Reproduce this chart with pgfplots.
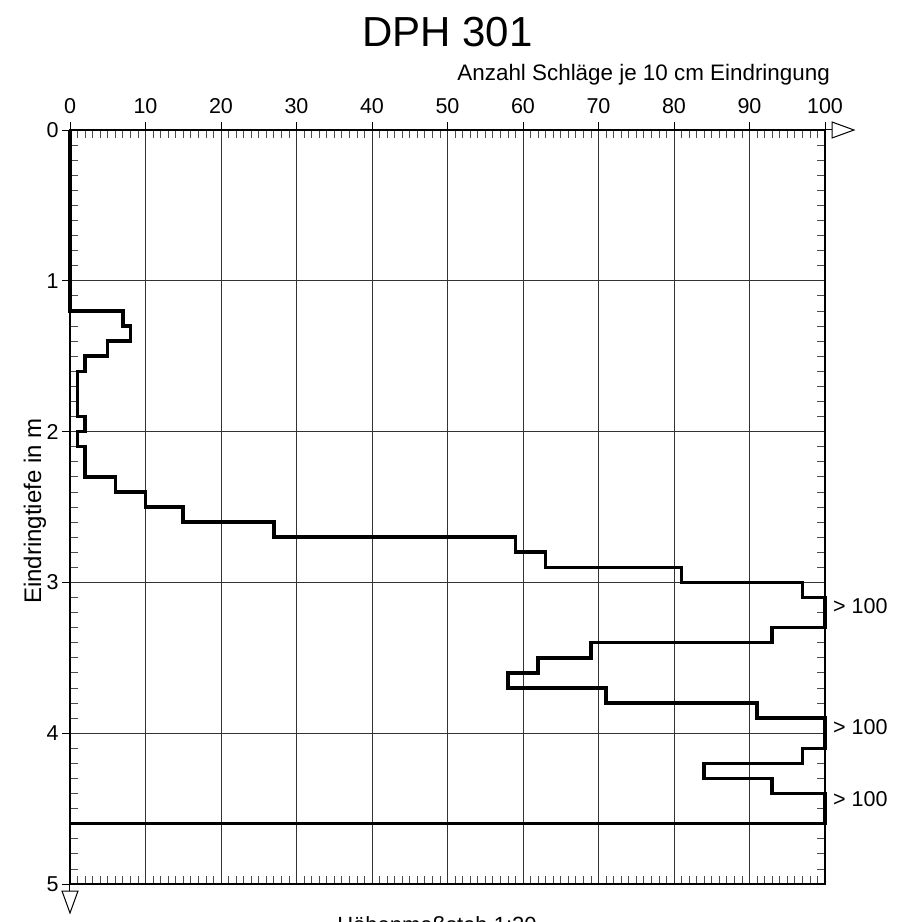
\documentclass[border=0pt]{standalone}
\usepackage{pgfplots}
\pgfplotsset{compat=1.18}
\usepackage{fontspec}
\setmainfont{Liberation Sans}

% blows per 10 cm, drawn as steps: (blows, depth)
\pgfplotstableread{
n d
0 0
0 1.2
7 1.2
7 1.3
8 1.3
8 1.4
5 1.4
5 1.5
2 1.5
2 1.6
1 1.6
1 1.9
2 1.9
2 2.0
1 2.0
1 2.1
2 2.1
2 2.3
6 2.3
6 2.4
10 2.4
10 2.5
15 2.5
15 2.6
27 2.6
27 2.7
59 2.7
59 2.8
63 2.8
63 2.9
81 2.9
81 3.0
97 3.0
97 3.1
100 3.1
100 3.3
93 3.3
93 3.4
69 3.4
69 3.5
62 3.5
62 3.6
58 3.6
58 3.7
71 3.7
71 3.8
91 3.8
91 3.9
100 3.9
100 4.1
97 4.1
97 4.2
84 4.2
84 4.3
93 4.3
93 4.4
100 4.4
100 4.6
0 4.6
}\sondierung

\begin{document}
\begin{tikzpicture}
\pgfplotsset{every axis/.append style={
    scale only axis, width=755pt, height=754pt,
    xmin=0, xmax=100, ymin=0, ymax=5, y dir=reverse,
    xtick={0,10,...,100}, ytick={0,1,2,3,4,5},
}}
% minor ticks, inward on all four sides
\begin{axis}[
    at={(0,0)}, anchor=south west,
    tick align=inside, major tick length=0pt, minor tick length=8pt,
    minor x tick num=9, minor y tick num=9,
    xticklabels={}, yticklabels={},
    minor tick style={black!70, line width=0.8pt},
    axis line style={draw=none},
]
\addplot[draw=none] coordinates {(0,0)};
\end{axis}
% grid, labels and data
\begin{axis}[
    at={(0,0)}, anchor=south west,
    clip=false,
    xtick pos=right, xticklabel pos=right, ytick pos=left,
    tick align=outside, major tick length=8pt,
    tick style={black, line width=0.8pt},
    grid=major, grid style={black!80, line width=0.8pt},
    axis line style={black, line width=1.2pt},
    ticklabel style={font=\fontsize{21.5}{24}\selectfont},
    xticklabel style={yshift=5pt},
    /pgf/number format/assume math mode=true,
]
\addplot[black, line width=3.5pt, line join=miter] table[x=n, y=d] {\sondierung};
\node[anchor=west, inner sep=0pt, xshift=8pt, font=\fontsize{21.5}{24}\selectfont] at (axis cs:100,3.16) {> 100};
\node[anchor=west, inner sep=0pt, xshift=8pt, font=\fontsize{21.5}{24}\selectfont] at (axis cs:100,3.96) {> 100};
\node[anchor=west, inner sep=0pt, xshift=8pt, font=\fontsize{21.5}{24}\selectfont] at (axis cs:100,4.44) {> 100};
\end{axis}
% axis arrows
\draw[line width=1pt] (755pt,754pt) -- (762pt,754pt);
\draw[line width=1pt, fill=white] (762pt,762pt) -- (784pt,754pt) -- (762pt,746pt) -- cycle;
\draw[line width=1pt] (0pt,0pt) -- (0pt,-7pt);
\draw[line width=1pt, fill=white] (-8pt,-7pt) -- (0pt,-29pt) -- (8pt,-7pt) -- cycle;
% texts
\node[font=\fontsize{42}{48}\selectfont] at (377.5pt,852pt) {DPH 301};
\node[anchor=east, inner sep=0pt, font=\fontsize{22.4}{26}\selectfont] at (760pt,809pt) {Anzahl Schläge je 10 cm Eindringung};
\node[rotate=90, inner sep=0pt, font=\fontsize{24}{28}\selectfont] at (-35pt,373pt) {Eindringtiefe in m};
\node[anchor=north, inner sep=0pt, font=\fontsize{22}{26}\selectfont] at (367pt,-32pt) {Höhenmaßstab 1:20};
\pgfresetboundingbox
\useasboundingbox (-70pt,-38pt) rectangle (827pt,884pt);
\end{tikzpicture}
\end{document}
